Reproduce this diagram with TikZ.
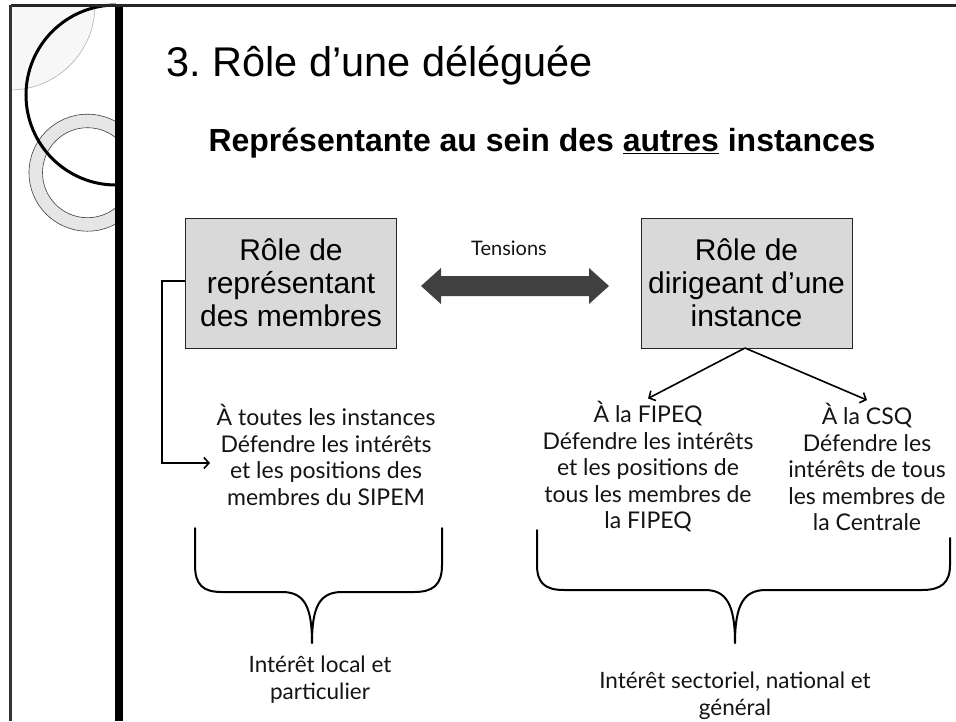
\documentclass[tikz,border=0pt]{standalone}
\usepackage{fontspec}
\setmainfont{Liberation Sans}
\newfontfamily\gill{Lato}
\usetikzlibrary{arrows.meta}
\definecolor{boxgray}{HTML}{D9D9D9}
\definecolor{ringgray}{HTML}{E6E6E6}
\definecolor{arrowgray}{HTML}{404040}
\definecolor{txt}{HTML}{141414}
\frenchspacing
\begin{document}
\begin{tikzpicture}[x=1pt,y=-1pt,
  role/.style={draw=black!85, line width=0.8pt, fill=boxgray, minimum width=211pt, minimum height=130pt, inner sep=0pt, align=center, font=\fontsize{30}{33}\selectfont},
  body/.style={align=center, text=txt, font=\gill\fontsize{23}{26.5}\selectfont, inner sep=0pt},
  label/.style={align=center, text=txt, font=\gill\fontsize{22.5}{27}\selectfont, inner sep=0pt},
  conn/.style={line width=1.6pt, -{Straight Barb[length=5pt,width=11pt,line width=1.6pt]}},
  bracepath/.style={line width=2pt, line cap=round, line join=round}]
\useasboundingbox (0,0) rectangle (956,721);
\fill[white] (0,0) rectangle (956,721);
% decorations on the left
\fill[gray!6] (10,5) -- (95,5) arc[start angle=0, end angle=-90, radius=85pt] -- cycle;
\draw[gray!60, line width=0.6pt] (95,5) arc[start angle=0, end angle=-90, radius=85pt];
\begin{scope}
  \clip (0,0) rectangle (116,721);
  \fill[ringgray, even odd rule] (87.5,172.7) circle[radius=58.5pt] (87.5,172.7) circle[radius=45pt];
  \draw[black!75, line width=0.6pt] (87.5,172.7) circle[radius=58.5pt] (87.5,172.7) circle[radius=45pt];
  \draw[black, line width=3pt] (116,5) arc[start angle=90, end angle=270, radius=90pt];
\end{scope}
\fill[black] (115,5) rectangle (123,721);
\draw[black!85, line width=2.5pt] (10.5,5.3) -- (956,5.3);
\draw[black!80, line width=3pt] (10.5,5.3) -- (10.5,721);
% titles
\node[anchor=base west, inner sep=0pt, font=\fontsize{41.5}{45}\selectfont] (title) at (166,76.5) {3. Rôle d’une déléguée};
\node[inner sep=0pt, font=\bfseries\fontsize{32}{36}\selectfont, anchor=base] (subtitle) at (542,151) {Représentante au sein des \underline{autres} instances};
% boxes
\node[role] (rep) at (291,283) {Rôle de\\représentant\\des membres};
\node[role] (dir) at (746.5,283) {Rôle de\\dirigeant d’une\\instance};
% tension arrow
\node[body, font=\gill\fontsize{20}{24}\selectfont] (tens) at (509,248) {Tensions};
\fill[arrowgray] (421,286) -- (441,268) -- (441,276) -- (589,276) -- (589,268) -- (609,286) -- (589,304) -- (589,296) -- (441,296) -- (441,304) -- cycle;
% text blocks
\node[body] (all) at (326,455) {À toutes les instances\\Défendre les intérêts\\et les positions des\\membres du SIPEM};
\node[body] (fipeq) at (648,467) {À la FIPEQ\\Défendre les intérêts\\et les positions de\\tous les membres de\\la FIPEQ};
\node[body] (csq) at (867,467) {À la CSQ\\Défendre les\\intérêts de tous\\les membres de\\la Centrale};
\coordinate (allin) at (210,463);
\draw[conn] (rep.west |- 0,281) -- (162,281) -- (162,463) -- (allin);
\coordinate (dirb) at (745,348);
\draw[conn] (dirb) -- ([yshift=3pt]fipeq.north);
\draw[conn] (dirb) -- ([yshift=3pt]csq.north);
% braces
\draw[bracepath] (195,528) -- (195,565) .. controls (195,585) and (203,592) .. (222,592) -- (282,592) .. controls (304,592) and (312,606) .. (312,643)
  .. controls (312,606) and (320,592) .. (342,592) -- (414,592) .. controls (433,592) and (442,585) .. (442,565) -- (442,528);
\draw[bracepath] (537,530) -- (537,565) .. controls (537,583) and (545,590) .. (564,590) -- (705,590) .. controls (726,590) and (735,604) .. (735,643)
  .. controls (735,604) and (744,590) .. (766,590) -- (922,590) .. controls (941,590) and (950,583) .. (950,565) -- (950,538);
\node[label] (loc) at (320,680) {Intérêt local et\\particulier};
\node[label] (gen) at (735,696) {Intérêt sectoriel, national et\\général};
\end{tikzpicture}
\end{document}
